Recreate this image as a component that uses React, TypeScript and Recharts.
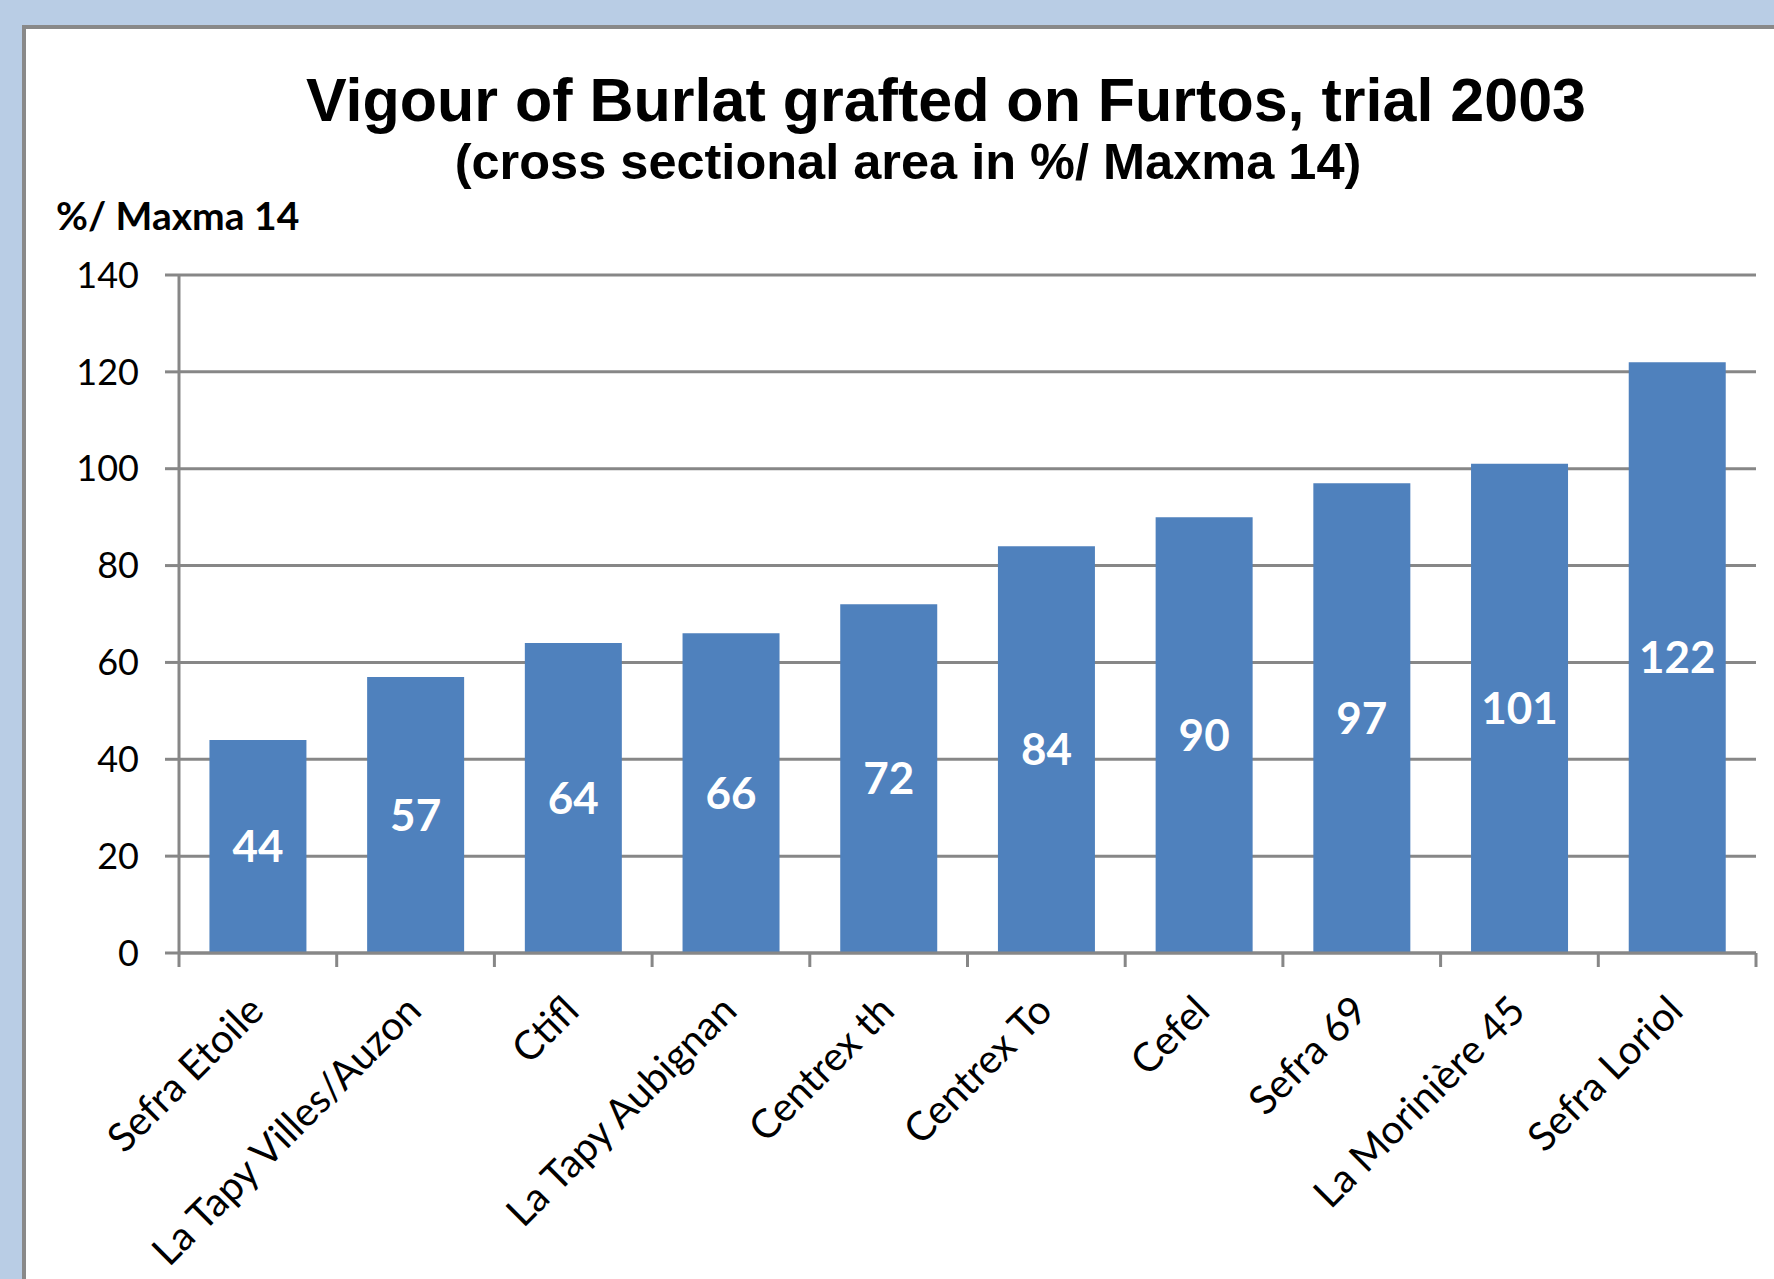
import React from 'react';
import { BarChart, Bar, XAxis, YAxis, CartesianGrid, LabelList } from 'recharts';

const categories = [
  'Sefra Etoile',
  'La Tapy Villes/Auzon',
  'Ctifl',
  'La Tapy Aubignan',
  'Centrex th',
  'Centrex To',
  'Cefel',
  'Sefra 69',
  'La Morinière 45',
  'Sefra Loriol',
];
const vigour = [44, 57, 64, 66, 72, 84, 90, 97, 101, 122];
const yTicks = [0, 20, 40, 60, 80, 100, 120, 140];
const title = 'Vigour of Burlat grafted on Furtos, trial 2003';
const subtitle = '(cross sectional area in %/ Maxma 14)';
const yAxisLabel = '%/ Maxma 14';

const data = categories.map((name, i) => ({ name, value: vigour[i] }));

const W = 1774;
const H = 1279;
const M = { top: 275, right: 18, bottom: 0, left: 0 };
const Y_AXIS_W = 179;
const X_AXIS_H = 326;
const PLOT_W = W - M.left - M.right - Y_AXIS_W;
const GRID = '#878787';
const BAR = '#4F81BD';
const FONT = 'Lato, "Noto Sans", sans-serif';
const TITLE_FONT = '"Liberation Sans", Arial, sans-serif';

function XTick(props: any) {
  const { x, y, payload, index } = props;
  const half =
    payload && typeof payload.offset === 'number' && payload.offset > 0
      ? payload.offset
      : PLOT_W / categories.length / 2;
  const left = x - half;
  const right = x + half;
  const tx = x + 8;
  const ty = y + 60;
  return (
    <g>
      <line x1={left} x2={left} y1={y} y2={y + 14} stroke={GRID} strokeWidth={3} />
      {index === categories.length - 1 && (
        <line x1={right} x2={right} y1={y} y2={y + 14} stroke={GRID} strokeWidth={3} />
      )}
      <text
        x={tx}
        y={ty}
        textAnchor="end"
        transform={`rotate(-45, ${tx}, ${ty})`}
        fontFamily={FONT}
        fontSize={40}
        fill="#000"
      >
        {payload.value}
      </text>
    </g>
  );
}

export default function App() {
  return (
    <div
      style={{
        position: 'absolute',
        left: 0,
        top: 0,
        width: W,
        height: H,
        overflow: 'hidden',
        background: '#B9CDE5',
      }}
    >
      <div
        style={{
          position: 'absolute',
          left: 22,
          top: 25,
          width: 1800,
          height: 1300,
          background: '#fff',
          borderLeft: '4px solid #898989',
          borderTop: '4px solid #898989',
          boxSizing: 'border-box',
        }}
      />
      <div style={{ position: 'absolute', left: 0, top: 0 }}>
        <BarChart width={W} height={H} data={data} margin={M} barCategoryGap="19.3%">
          <CartesianGrid horizontal vertical={false} stroke={GRID} strokeWidth={3} />
          <XAxis
            dataKey="name"
            interval={0}
            height={X_AXIS_H}
            tickLine={false}
            tickSize={0}
            tickMargin={0}
            axisLine={{ stroke: GRID, strokeWidth: 3 }}
            tick={<XTick />}
          />
          <YAxis
            width={Y_AXIS_W}
            domain={[0, 140]}
            ticks={yTicks}
            interval={0}
            tickSize={14}
            tickMargin={26}
            tickLine={{ stroke: GRID, strokeWidth: 3 }}
            axisLine={{ stroke: GRID, strokeWidth: 3 }}
            tick={{ fontSize: 36, fill: '#000', fontFamily: FONT }}
          />
          <Bar dataKey="value" fill={BAR} isAnimationActive={false}>
            <LabelList
              dataKey="value"
              position="center"
              fill="#fff"
              fontSize={44}
              fontWeight={700}
              fontFamily={FONT}
            />
          </Bar>
        </BarChart>
      </div>
      <svg
        width={W}
        height={H}
        style={{ position: 'absolute', left: 0, top: 0, pointerEvents: 'none' }}
      >
        <text x={946} y={120.5} textAnchor="middle" fontFamily={TITLE_FONT} fontWeight={700} fontSize={61} fill="#000">
          {title}
        </text>
        <text x={908} y={179} textAnchor="middle" fontFamily={TITLE_FONT} fontWeight={700} fontSize={50.5} fill="#000">
          {subtitle}
        </text>
        <text x={56} y={230} textAnchor="start" fontFamily={FONT} fontWeight={700} fontSize={39} fill="#000">
          {yAxisLabel}
        </text>
      </svg>
    </div>
  );
}
